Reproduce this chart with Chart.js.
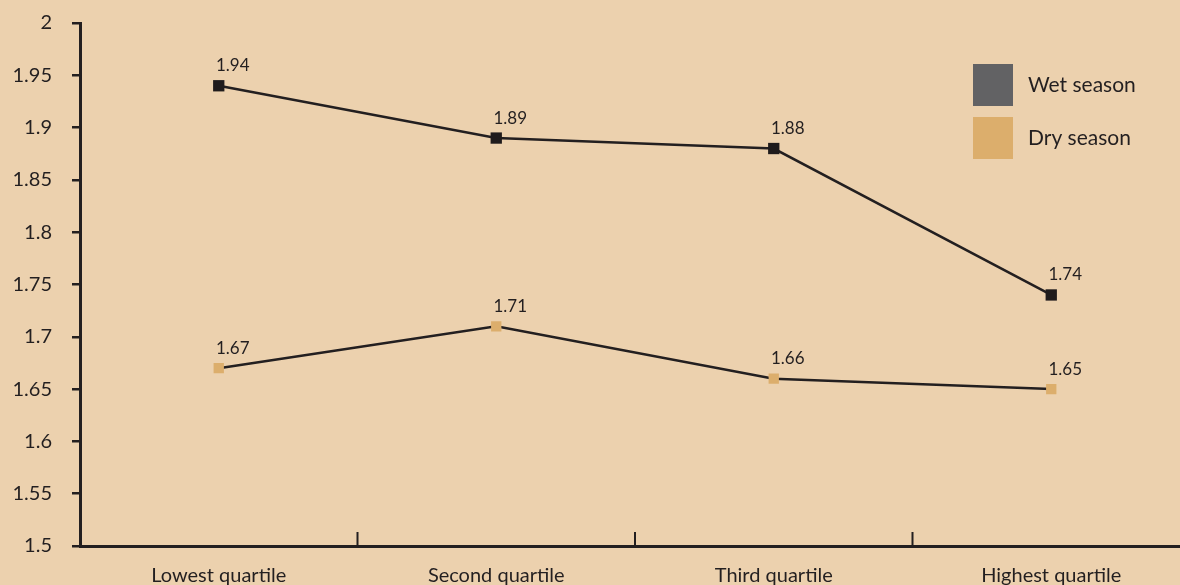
<!DOCTYPE html>
<html>
<head>
<meta charset="utf-8">
<script src="https://cdn.jsdelivr.net/npm/chart.js@4/dist/chart.umd.min.js"></script>
<style>
  html, body { margin: 0; padding: 0; background: #ecd1ae; overflow: hidden; }
  canvas { display: block; }
</style>
</head>
<body>
<canvas id="myLineChart" width="1198" height="585"></canvas>
<script>
// data
var categories = ['Lowest quartile', 'Second quartile', 'Third quartile', 'Highest quartile'];
var wetSeason = [1.94, 1.89, 1.88, 1.74];
var drySeason = [1.67, 1.71, 1.66, 1.65];
var seriesNames = ['Wet season', 'Dry season'];
var yTicks = [1.5, 1.55, 1.6, 1.65, 1.7, 1.75, 1.8, 1.85, 1.9, 1.95, 2];

var FONT = 'Lato, "Open Sans", sans-serif';
var INK = '#231f20';
var legendColors = ['#626264', '#dcae6c'];

// value labels above the points
var valueLabels = {
    id: 'valueLabels',
    afterDatasetsDraw: function (chart) {
        var ctx = chart.ctx;
        ctx.save();
        ctx.font = '17px ' + FONT;
        ctx.fillStyle = INK;
        ctx.textAlign = 'center';
        ctx.textBaseline = 'middle';
        chart.data.datasets.forEach(function (ds, i) {
            chart.getDatasetMeta(i).data.forEach(function (pt, j) {
                ctx.fillText(ds.data[j].toFixed(2), pt.x + 14, pt.y - 20);
            });
        });
        ctx.restore();
    }
};

// inward tick marks between categories on the x axis
var innerTicks = {
    id: 'innerTicks',
    afterDraw: function (chart) {
        var ctx = chart.ctx;
        var x = chart.scales.x;
        var bottom = chart.chartArea.bottom;
        ctx.save();
        ctx.strokeStyle = INK;
        ctx.lineWidth = 2;
        for (var i = 0; i < categories.length - 1; i++) {
            var px = (x.getPixelForValue(i) + x.getPixelForValue(i + 1)) / 2;
            ctx.beginPath();
            ctx.moveTo(px, bottom);
            ctx.lineTo(px, bottom - 14);
            ctx.stroke();
        }
        ctx.restore();
    }
};

// legend in the top right of the plot
var boxLegend = {
    id: 'boxLegend',
    afterDraw: function (chart) {
        var ctx = chart.ctx;
        var area = chart.chartArea;
        var left = area.right - 217;
        var top = area.top + 41;
        ctx.save();
        ctx.font = '21px ' + FONT;
        ctx.textBaseline = 'middle';
        seriesNames.forEach(function (name, i) {
            var y = top + i * 53;
            ctx.fillStyle = legendColors[i];
            ctx.fillRect(left, y, 40, 42);
            ctx.fillStyle = INK;
            ctx.fillText(name, left + 55, y + 21);
        });
        ctx.restore();
    }
};

var chartArea = document.getElementById('myLineChart').getContext('2d');
var myChart = new Chart(chartArea, {
    type: 'line',
    data: {
        labels: categories,
        datasets: [{
            label: seriesNames[0],
            data: wetSeason,
            borderColor: INK,
            borderWidth: 2.5,
            pointStyle: 'rect',
            pointRadius: 8,
            pointBackgroundColor: '#1f1b1c',
            pointBorderWidth: 0,
            tension: 0
        }, {
            label: seriesNames[1],
            data: drySeason,
            borderColor: INK,
            borderWidth: 2.5,
            pointStyle: 'rect',
            pointRadius: 7.3,
            pointBackgroundColor: '#dcae6c',
            pointBorderWidth: 0,
            tension: 0
        }]
    },
    options: {
        responsive: false,
        animation: false,
        layout: { padding: { top: 23, right: 0, bottom: 0, left: 0 } },
        plugins: {
            legend: { display: false },
            tooltip: { enabled: false }
        },
        scales: {
            x: {
                offset: true,
                grid: { display: false },
                border: { color: INK, width: 3 },
                ticks: { color: INK, font: { family: FONT, size: 20 }, padding: 10, maxRotation: 0 },
                afterFit: function (s) { s.height = 39; }
            },
            y: {
                min: 1.5,
                max: 2,
                afterBuildTicks: function (s) {
                    s.ticks = yTicks.map(function (v) { return { value: v }; });
                },
                grid: { drawOnChartArea: false, color: INK, lineWidth: 2.5, tickLength: 8 },
                border: { color: INK, width: 3 },
                ticks: {
                    color: INK,
                    font: { family: FONT, size: 20 },
                    padding: 20,
                    callback: function (v) { return String(+v.toFixed(2)); }
                },
                afterFit: function (s) {
                    s.width = 80;
                    s.paddingTop = 0;
                    s.paddingBottom = 0;
                }
            }
        }
    },
    plugins: [valueLabels, innerTicks, boxLegend]
});
</script>
</body>
</html>
